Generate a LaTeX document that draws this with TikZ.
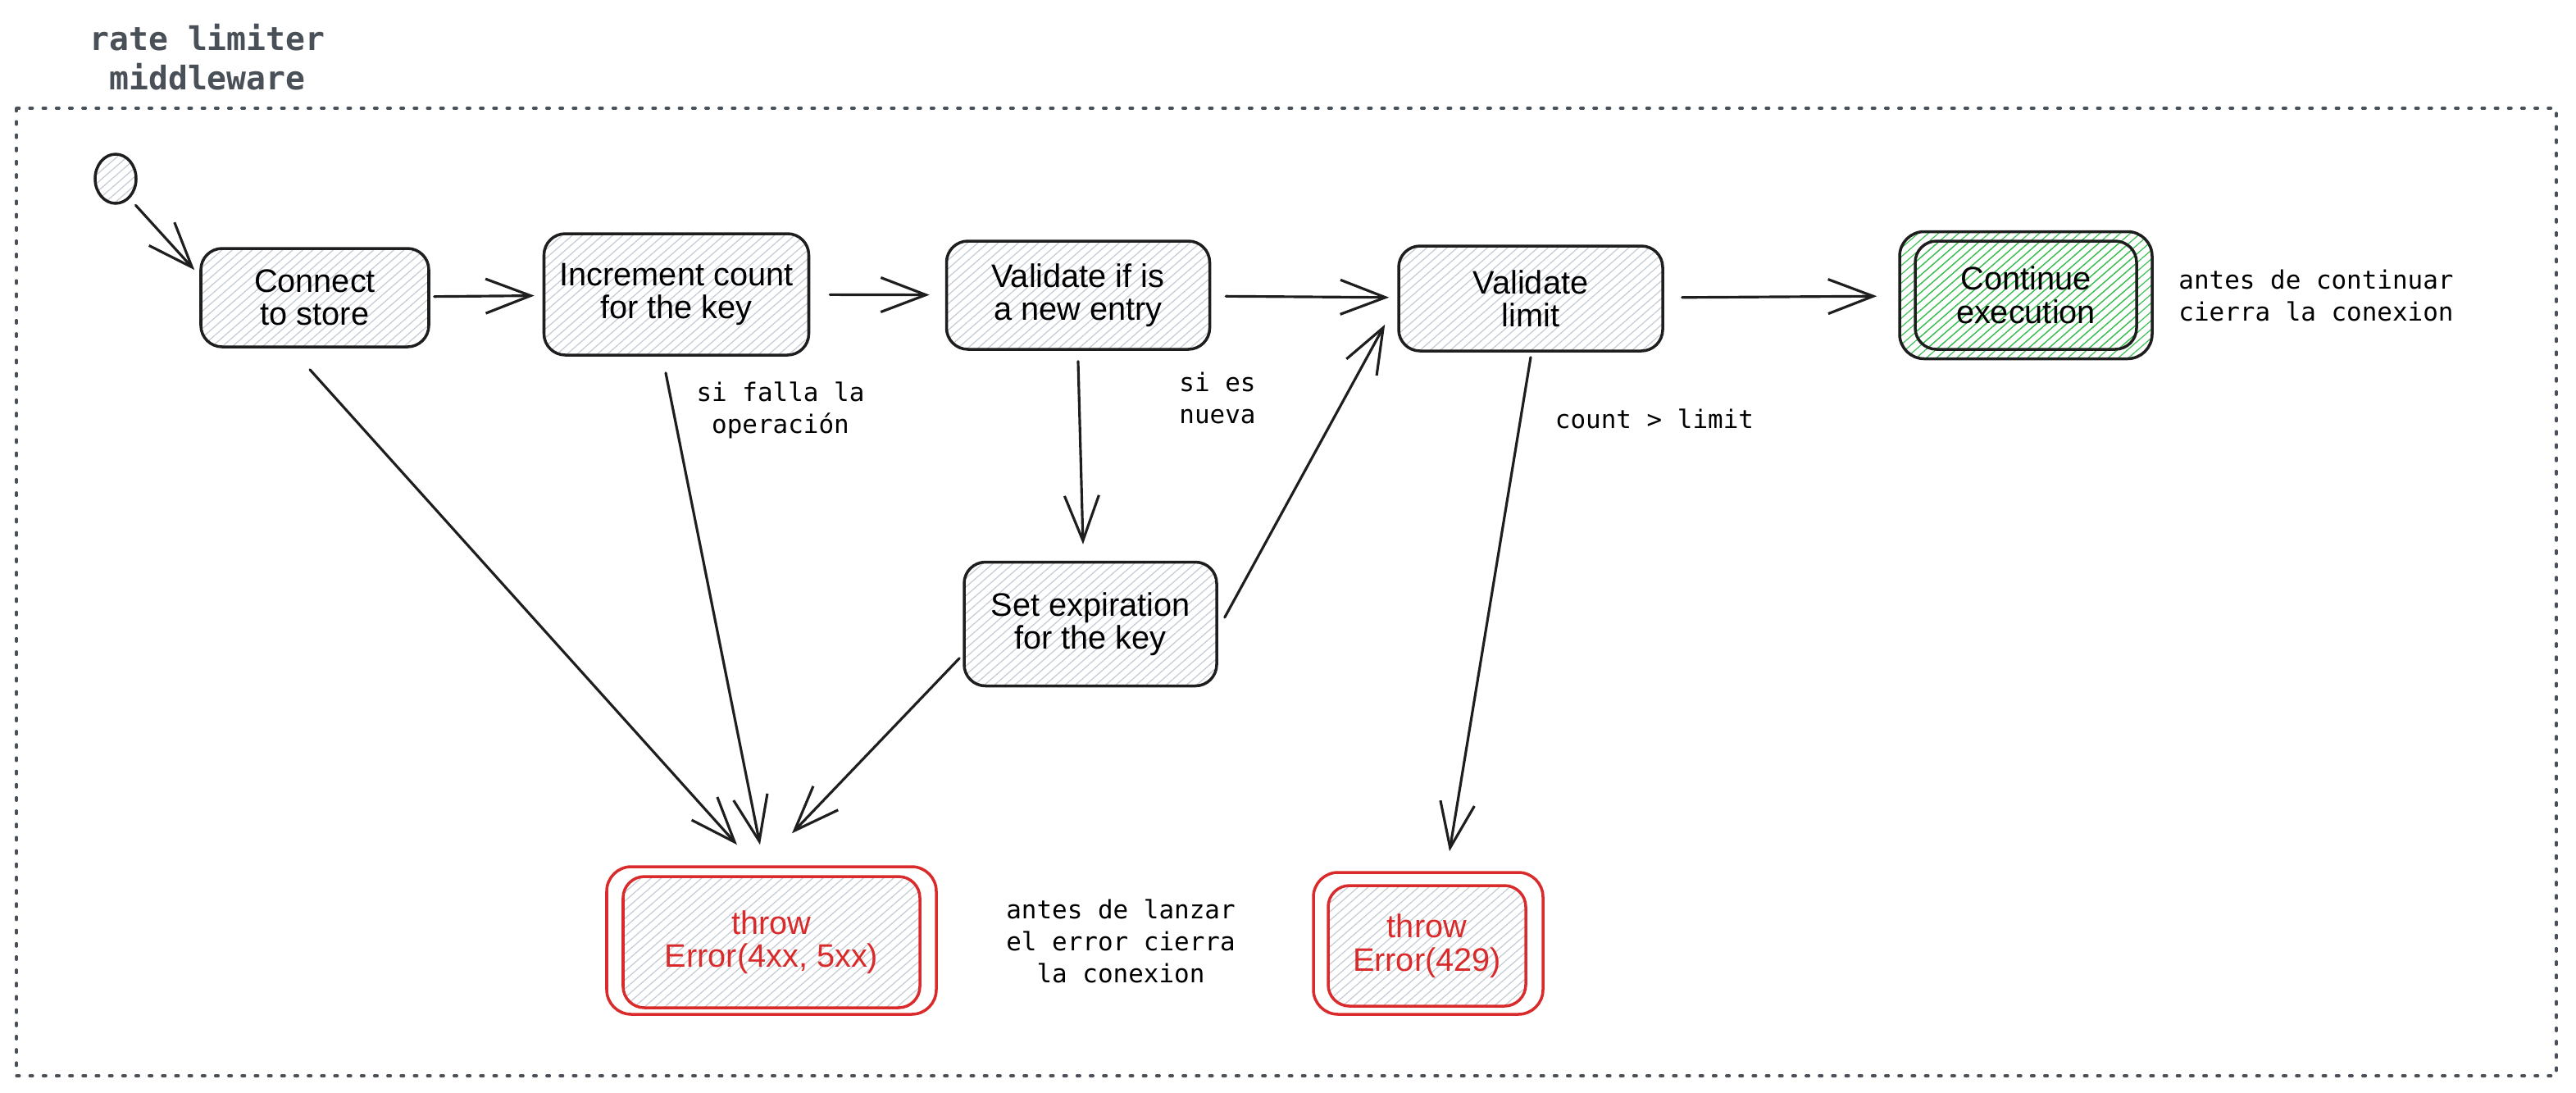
\documentclass[tikz,border=0pt]{standalone}
\usepackage{fontspec}
\setmainfont{Liberation Sans}
\setmonofont{DejaVu Sans Mono}
\usetikzlibrary{arrows.meta,patterns.meta,shapes.geometric}
\definecolor{ink}{HTML}{1E1E1E}
\definecolor{hatchgray}{HTML}{C5CBD3}
\definecolor{errred}{HTML}{D92B2B}
\definecolor{okgreen}{HTML}{40C057}
\definecolor{titlegray}{HTML}{495057}
\begin{document}
\begin{tikzpicture}[font=\fontsize{11.3}{11.5}\selectfont, line join=round, line cap=round,
		>={Straight Barb[length=5.5mm,width=4.2mm]},
		hatch/.style={pattern={Lines[angle=41,distance=2.3pt,line width=.35pt]},pattern color=#1},
		hatch/.default=hatchgray,
		stepbox/.style={draw=ink, line width=1pt, rounded corners=2.6mm, hatch, inner sep=0pt, align=center},
		frame/.style={draw=#1, line width=1pt, rounded corners=3mm, inner sep=0pt},
		arr/.style={->, draw=ink, line width=.9pt},
		note/.style={font=\ttfamily\fontsize{8.8}{11.1}\selectfont, align=center}]
				\useasboundingbox (0,0) rectangle (31.42,-13.33);
				%\draw[thin,color=gray!50] (0,0) grid (31,-13);
				\draw[titlegray, line width=1pt, dash pattern=on 1pt off 3.6pt] (0.20,-1.32) rectangle (31.18,-13.12);
				\node[font=\ttfamily\bfseries\fontsize{11.3}{13.7}\selectfont, text=titlegray, align=center] (title) at (2.53,-0.70) {rate limiter\\middleware};
				% steps
				\node[draw=ink, line width=1pt, hatch, ellipse, minimum width=5mm, minimum height=6mm, inner sep=0pt] (start) at (1.41,-2.18) {};
				\node[stepbox, minimum width=2.78cm, minimum height=1.20cm] (con) at (3.84,-3.63) {Connect\\to store};
				\node[stepbox, minimum width=3.23cm, minimum height=1.48cm] (inc) at (8.25,-3.59) {Increment count\\for the key};
				\node[stepbox, minimum width=3.21cm, minimum height=1.32cm] (val) at (13.15,-3.60) {Validate if is\\a new entry};
				\node[stepbox, minimum width=3.22cm, minimum height=1.28cm] (lim) at (18.67,-3.64) {Validate\\limit};
				\node[stepbox, minimum width=3.08cm, minimum height=1.51cm] (exp) at (13.30,-7.61) {Set expiration\\for the key};
				\node[frame=ink, hatch=okgreen, minimum width=3.08cm, minimum height=1.55cm] (contframe) at (24.71,-3.60) {};
				\node[stepbox, hatch=okgreen, minimum width=2.70cm, minimum height=1.32cm] (cont) at (contframe) {Continue\\execution};
				\node[frame=errred, minimum width=4.02cm, minimum height=1.80cm] (errframe) at (9.41,-11.47) {};
				\node[stepbox, draw=errred, text=errred, minimum width=3.62cm, minimum height=1.60cm] (err) at (9.41,-11.49) {throw\\Error(4xx, 5xx)};
				\node[frame=errred, minimum width=2.80cm, minimum height=1.73cm] (toomanyframe) at (17.42,-11.505) {};
				\node[stepbox, draw=errred, text=errred, minimum width=2.41cm, minimum height=1.47cm] (toomany) at (17.405,-11.535) {throw\\Error(429)};
				% flow
				\draw[arr, shorten <=1.2mm] (start.-55) -- ([shift={(-0.06,-0.28)}]con.north west);
				\draw[arr, shorten <=.5mm, shorten >=1mm] (con) -- (inc);
				\draw[arr, shorten <=2.4mm, shorten >=1.9mm] (inc) -- (val);
				\draw[arr, shorten <=1.8mm, shorten >=1mm] (val) -- (lim);
				\draw[arr, shorten <=2.2mm, shorten >=2.6mm] (lim) -- (contframe);
				\draw[arr] ([yshift=-1.3mm]val.south) -- ([shift={(-0.09,0.2)}]exp.north);
				\draw[arr] ([shift={(0.08,0.08)}]exp.east) -- ([shift={(-0.15,0.34)}]lim.south west);
				\draw[arr] ([shift={(-0.06,-0.26)}]con.south) -- ([shift={(-0.42,0.25)}]errframe.north);
				\draw[arr] ([shift={(-0.13,-0.20)}]inc.south) -- ([shift={(-0.14,0.25)}]errframe.north);
				\draw[arr] ([shift={(-0.04,0.355)}]exp.south west) -- ([shift={(0.25,0.39)}]errframe.north);
				\draw[arr] ([yshift=-0.6mm]lim.south) -- ([shift={(0.26,0.24)}]toomanyframe.north);
				% notes
				\node[note] (failnote) at (9.52,-5.00) {si falla la\\operación};
				\node[note] (newnote) at (14.85,-4.85) {si es\\nueva};
				\node[note] (limitnote) at (20.18,-5.11) {count > limit};
				\node[note, right, align=left] (contnote) at (26.45,-3.60) {antes de continuar\\cierra la conexion};
				\node[note] (errnote) at (13.67,-11.48) {antes de lanzar\\el error cierra\\la conexion};
		\end{tikzpicture}
\end{document}
